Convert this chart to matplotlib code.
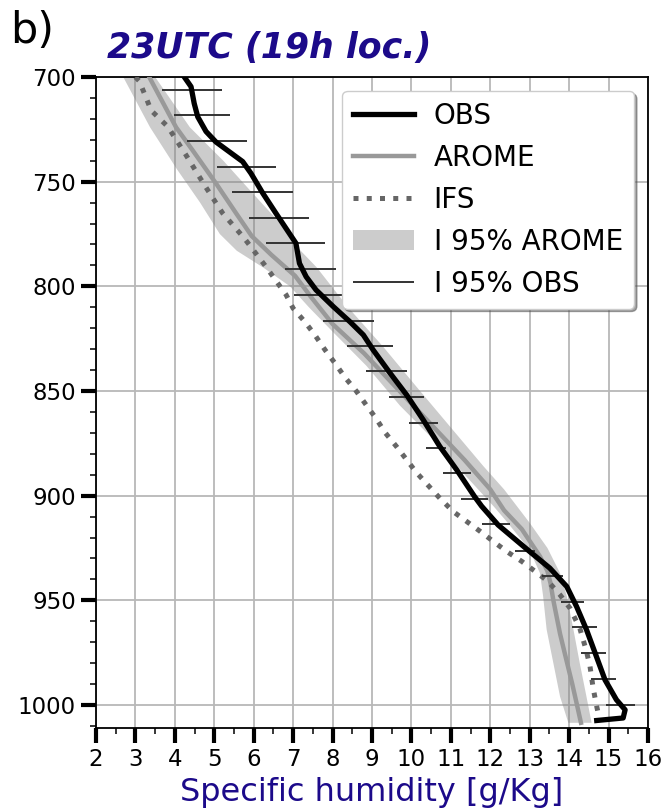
import numpy as np
import matplotlib
matplotlib.use("Agg")
import matplotlib.pyplot as plt

# OBS profile (pressure hPa, specific humidity g/kg)
obs_p = [700, 704.6, 712.6, 719, 726, 731, 735.7, 740.4, 746, 755.5, 765, 774.6,
         779.4, 789, 795.4, 801.7, 809.7, 816.9, 823.2, 830.4, 841.5, 851.9,
         863.8, 876.5, 887.7, 900.4, 905, 914, 926.7, 934.6, 943.4, 953, 964,
         975.2, 988, 997.5, 1002.3, 1006.2, 1007.4]
obs_q = [4.24, 4.41, 4.49, 4.58, 4.79, 5.04, 5.38, 5.72, 5.93, 6.23, 6.56, 6.9,
         7.07, 7.16, 7.33, 7.58, 8.02, 8.44, 8.78, 9.03, 9.46, 9.88,
         10.3, 10.72, 11.15, 11.6, 11.78, 12.2, 13.0, 13.51, 13.94, 14.19, 14.44,
         14.66, 14.91, 15.2, 15.42, 15.37, 14.7]

# OBS 95% interval bars
bar_p = [706.2, 718.1, 730.6, 742.8, 754.9, 767.2, 779.3, 791.7, 804.1, 816.4,
         828.5, 840.4, 853, 865.1, 877.3, 889.3, 901.7, 913.6, 926.2, 938.6,
         950.9, 962.8, 975.2, 987.5, 999.9]
bar_lo = [3.67, 3.97, 4.32, 5.06, 5.45, 5.87, 6.31, 6.79, 7.02, 7.75,
          8.36, 8.84, 9.42, 9.93, 10.37, 10.81, 11.25, 11.78, 12.63, 13.3,
          13.8, 14.07, 14.3, 14.55, 14.93]
bar_hi = [5.2, 5.41, 5.83, 6.56, 7.0, 7.39, 7.81, 8.09, 8.35, 9.05,
          9.52, 9.9, 10.31, 10.67, 10.87, 11.5, 11.94, 12.5, 13.13, 13.85,
          14.38, 14.7, 14.93, 15.2, 15.67]

# AROME mean profile
arome_p = [700, 712, 724, 735, 751, 765, 776, 785, 795, 805, 818, 832, 850, 867,
           883, 897, 907, 916, 929, 936, 942, 950, 966, 980, 990, 1000, 1008.5]
arome_q = [3.35, 3.69, 4.03, 4.45, 5.05, 5.55, 5.95, 6.45, 7.05, 7.45, 8.0, 8.8, 9.7,
           10.55, 11.35, 12.0, 12.35, 12.8, 13.26, 13.45, 13.53, 13.6, 13.77,
           13.95, 14.08, 14.2, 14.3]

# AROME 95% interval edges
band_lo_p = [700, 724, 744, 760, 775, 783, 791, 800, 810, 822, 838, 857, 873, 891,
             905, 912, 926, 937, 948, 964, 980, 996, 1008.5]
band_lo_q = [2.69, 3.37, 4.05, 4.64, 5.14, 5.57, 6.24, 6.92, 7.4, 8.02, 8.86, 9.71,
             10.55, 11.4, 12.08, 12.4, 13.0, 13.26, 13.34, 13.43, 13.6, 13.77, 13.98]
band_hi_p = [700, 724, 740, 754, 768, 781, 791, 803, 811, 829, 848, 867, 886, 897,
             913, 925, 937, 948, 964, 980, 996, 1008.5]
band_hi_q = [3.5, 4.38, 5.23, 5.9, 6.58, 7.09, 7.6, 8.1, 8.44, 9.29, 10.13, 10.98,
             11.83, 12.35, 13.0, 13.45, 13.77, 13.94, 14.11, 14.27, 14.44, 14.57]

# IFS profile
ifs_p = [700, 702, 716, 723.7, 737.2, 751.6, 765, 777, 790.6, 804, 810.5, 817,
         823.2, 830.4, 836.7, 843.6, 850, 856.6, 863, 869.8, 876.5, 889, 901.2,
         907.6, 917, 921.9, 926.7, 931.4, 936.2, 941, 947.4, 953.7, 963.3, 973.6,
         981.6, 992, 1000.7, 1005]
ifs_q = [3.0, 3.1, 3.4, 3.82, 4.28, 4.75, 5.21, 5.76, 6.31, 6.82, 7.0, 7.3,
         7.55, 7.81, 8.06, 8.32, 8.6, 8.85, 9.1, 9.33, 9.62, 10.13, 10.72,
         11.06, 11.74, 12.08, 12.42, 12.8, 13.14, 13.47, 13.77, 14.02, 14.27, 14.43,
         14.53, 14.61, 14.7, 14.75]

title_col = '#1c0a8a'

fig = plt.figure(figsize=(6.65, 8.1), dpi=100)
ax = fig.add_axes([0.1444, 0.1012, 0.8300, 0.8037])

band_x = np.concatenate([band_lo_q, band_hi_q[::-1]])
band_y = np.concatenate([band_lo_p, band_hi_p[::-1]])
ax.fill(band_x, band_y, color='gray', alpha=0.4, lw=0, label='I 95% AROME', zorder=2)
ax.plot(arome_q, arome_p, color='#999999', lw=3.2, label='AROME', zorder=3)
ax.plot(ifs_q, ifs_p, color='#666666', lw=3.6, ls=':', label='IFS', zorder=3)
ax.hlines(bar_p, bar_lo, bar_hi, color='#333333', lw=1.4, label='I 95% OBS', zorder=4)
ax.plot(obs_q, obs_p, color='black', lw=3.8, label='OBS', zorder=5)

ax.set_xlim(2, 16)
ax.set_ylim(1011, 700)
ax.set_xticks(np.arange(2, 17, 1))
ax.set_xticks(np.arange(2.5, 16, 1), minor=True)
ax.set_yticks([700, 750, 800, 850, 900, 950, 1000])
ax.set_yticks(np.arange(710, 1011, 10), minor=True)
ax.grid(True, which='major', color='#b8b8b8', lw=1.3, zorder=0)
ax.set_axisbelow(True)
ax.tick_params(which='major', length=11, width=3, labelsize=16.5, direction='out')
ax.tick_params(which='minor', length=4.5, width=1.1, direction='out')
for s in ax.spines.values():
    s.set_linewidth(1.3)

ax.set_xlabel('Specific humidity [g/Kg]', fontsize=23, color=title_col, labelpad=4)
ax.text(0.02, 1.018, '23UTC (19h loc.)', transform=ax.transAxes, fontsize=25,
        fontweight='bold', fontstyle='italic', color=title_col, ha='left', va='bottom')
fig.text(0.015, 0.947, 'b)', fontsize=31)

handles, labels = ax.get_legend_handles_labels()
order = ['OBS', 'AROME', 'IFS', 'I 95% AROME', 'I 95% OBS']
hmap = dict(zip(labels, handles))
ax.legend([hmap[k] for k in order], order, loc='upper right', fontsize=20,
          shadow=True, fancybox=True, framealpha=1, handlelength=2.2,
          handletextpad=0.7, labelspacing=0.5, borderaxespad=0.5)

fig.savefig('out.png', dpi=100)
